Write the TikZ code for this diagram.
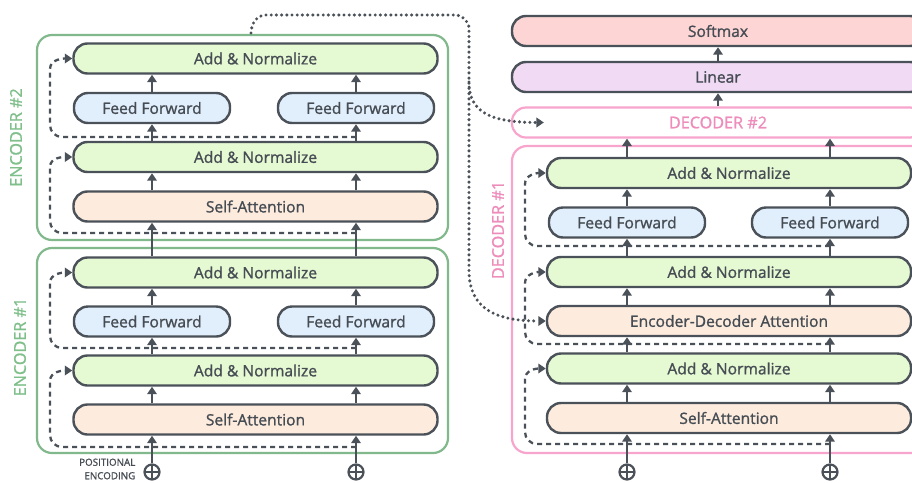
\documentclass[tikz,border=0pt]{standalone}
\usepackage{fontspec}
\setmainfont{Open Sans}
\newfontfamily\blkfont{Open Sans}[FakeBold=1.2]
\usetikzlibrary{arrows.meta,calc}

\definecolor{edge}{HTML}{4B5159}
\definecolor{txt}{HTML}{464C53}
\definecolor{addfill}{HTML}{E5F9D3}
\definecolor{fffill}{HTML}{E1EEFC}
\definecolor{attfill}{HTML}{FDECDE}
\definecolor{smfill}{HTML}{FCD5D4}
\definecolor{linfill}{HTML}{F0DAF4}
\definecolor{encgreen}{HTML}{82B98C}
\definecolor{enclabel}{HTML}{7FBF8A}
\definecolor{decpink}{HTML}{F8A5CD}
\definecolor{declabel}{HTML}{EE8DBB}

\tikzset{
  blk/.style={draw=edge, line width=2.4pt, rounded corners=14pt,
    minimum height=30pt, inner sep=0pt, text=txt,
    font=\blkfont\fontsize{15.6}{17}\selectfont},
  addbox/.style={blk, fill=addfill, minimum width=364pt},
  ffbox/.style={blk, fill=fffill, minimum width=156pt},
  attbox/.style={blk, fill=attfill, minimum width=364pt},
  wideblk/.style={blk, minimum width=412pt},
  encframe/.style={draw=encgreen, line width=2.2pt, rounded corners=15pt},
  decframe/.style={draw=decpink, line width=2.2pt, rounded corners=15pt},
  labfont/.style={font=\blkfont\fontsize{16.2}{17}\selectfont},
  sidelabel/.style={rotate=90, labfont},
  arr/.style={draw=edge, line width=2.4pt, -{Triangle[width=9.5pt,length=7.5pt]}},
  res/.style={draw=edge, line width=2.3pt, dash pattern=on 5pt off 4pt,
    -{Triangle[width=9.5pt,length=7.5pt]}},
  dotline/.style={draw=edge, line width=3.4pt, line cap=round,
    dash pattern=on 0pt off 5.2pt, -{Triangle[width=9.5pt,length=7.5pt]}},
  plus/.style={circle, draw=edge, line width=2.2pt, minimum size=15pt, inner sep=0pt,
    path picture={\draw[edge, line width=2.2pt]
      (path picture bounding box.north) -- (path picture bounding box.south)
      (path picture bounding box.west) -- (path picture bounding box.east);}},
}

\begin{document}
\begin{tikzpicture}[x=1pt, y=1pt]
\useasboundingbox (0,0) rectangle (912,-482);
\clip (0,0) rectangle (912,-482);
\fill[white] (0,0) rectangle (912,-482);

% ---------------- encoder frames and labels ----------------
\draw[encframe] (37,-35) rectangle (448,-240);
\draw[encframe] (37,-248) rectangle (448,-453);
\node[sidelabel, text=enclabel] (lab-e2) at (16,-137.5) {ENCODER \#2};
\node[sidelabel, text=enclabel] (lab-e1) at (20,-347) {ENCODER \#1};

% ---------------- decoder frames and labels ----------------
\draw[decframe] (512,-146) rectangle (940,-453);
\node[sidelabel, text=declabel] (lab-d1) at (498,-230) {DECODER \#1};

% ---------------- encoder #2 ----------------
\node[addbox] (e2an2) at (255.5,-58.5) {Add \& Normalize};
\node[ffbox]  (e2ffL) at (152,-108) {Feed Forward};
\node[ffbox]  (e2ffR) at (356,-108) {Feed Forward};
\node[addbox] (e2an1) at (255.5,-157) {Add \& Normalize};
\node[attbox] (e2sa)  at (255.5,-206.5) {Self-Attention};

% ---------------- encoder #1 ----------------
\node[addbox] (e1an2) at (255.5,-272.5) {Add \& Normalize};
\node[ffbox]  (e1ffL) at (152,-321.5) {Feed Forward};
\node[ffbox]  (e1ffR) at (356,-321.5) {Feed Forward};
\node[addbox] (e1an1) at (255.5,-370.5) {Add \& Normalize};
\node[attbox] (e1sa)  at (255.5,-419.5) {Self-Attention};

% ---------------- decoder stack ----------------
\node[wideblk, fill=smfill]  (softmax) at (718,-31) {Softmax};
\node[wideblk, fill=linfill] (linear)  at (718,-77) {Linear};
\node[wideblk, draw=decpink, line width=2.2pt, text=declabel, labfont]
  (dec2) at (718,-122.5) {DECODER \#2};

\node[addbox] (dan3) at (729,-173) {Add \& Normalize};
\node[ffbox]  (dffL) at (627,-222.5) {Feed Forward};
\node[ffbox]  (dffR) at (830,-222.5) {Feed Forward};
\node[addbox] (dan2) at (729,-272) {Add \& Normalize};
\node[attbox] (deda) at (729,-321) {Encoder-Decoder Attention};
\node[addbox] (dan1) at (729,-368.5) {Add \& Normalize};
\node[attbox] (dsa)  at (729,-418) {Self-Attention};

% ---------------- positional encoding inputs ----------------
\node[plus] (peA) at (152,-472) {};
\node[plus] (peB) at (356,-472) {};
\node[plus] (peC) at (627,-472) {};
\node[plus] (peD) at (830,-472) {};
\node[align=right, anchor=east, text=txt, inner sep=0pt,
      font=\blkfont\fontsize{9.8}{13.5}\selectfont]
  (pelabel) at (135.5,-469) {POSITIONAL\\ENCODING};

% ---------------- residual (skip) connections ----------------
\coordinate (e2r1) at (356,-233);
\coordinate (e2r2) at (356,-137);
\coordinate (e1r1) at (356,-447);
\coordinate (e1r2) at (356,-348);
\draw[res] (e2r1) -- (62,-233) to[out=180,in=-90] (50,-221) -- (50,-167) to[out=90,in=180] (e2an1.west);
\draw[res] (e2r2) -- (62,-137) to[out=180,in=-90] (50,-125) -- (50,-69) to[out=90,in=180] (e2an2.west);
\draw[res] (e1r1) -- (62,-447) to[out=180,in=-90] (50,-435) -- (50,-381) to[out=90,in=180] (e1an1.west);
\draw[res] (e1r2) -- (62,-348) to[out=180,in=-90] (50,-336) -- (50,-283) to[out=90,in=180] (e1an2.west);

\coordinate (dr1) at (830,-444);
\coordinate (dr2) at (830,-344);
\coordinate (dr3) at (830,-246);
\draw[res] (dr1) -- (537,-444) to[out=180,in=-90] (525,-432) -- (525,-379) to[out=90,in=180] (dan1.west);
\draw[res] (dr2) -- (537,-344) to[out=180,in=-90] (525,-332) -- (525,-283) to[out=90,in=180] (dan2.west);
\draw[res] (dr3) -- (537,-246) to[out=180,in=-90] (525,-234) -- (525,-184) to[out=90,in=180] (dan3.west);

% ---------------- encoder output to the decoders ----------------
\coordinate (encout) at (251,-33);
\coordinate (d2in) at ($(dec2.west)+(33,0)$);
\draw[dotline] (encout) to[out=90,in=180] (266,-15) -- (455,-15)
  to[out=0,in=90] (469,-29) -- (469,-270)
  .. controls (469,-305) and (490,-321) .. (deda.west);
\draw[dotline] (469,-82) .. controls (469,-112) and (490,-122.5) .. (d2in);

% ---------------- forward flow, encoder ----------------
\foreach \x in {peA, peB} {
  \draw[arr] (\x.north) -- (\x |- e1sa.south);
  \draw[arr] (\x |- e1sa.north) -- (\x |- e1an1.south);
  \draw[arr] (\x |- e1an1.north) -- (\x |- e1ffL.south);
  \draw[arr] (\x |- e1ffL.north) -- (\x |- e1an2.south);
  \draw[arr] (\x |- e1an2.north) -- (\x |- e2sa.south);
  \draw[arr] (\x |- e2sa.north) -- (\x |- e2an1.south);
  \draw[arr] (\x |- e2an1.north) -- (\x |- e2ffL.south);
  \draw[arr] (\x |- e2ffL.north) -- (\x |- e2an2.south);
}

% ---------------- forward flow, decoder ----------------
\foreach \x in {peC, peD} {
  \draw[arr] (\x.north) -- (\x |- dsa.south);
  \draw[arr] (\x |- dsa.north) -- (\x |- dan1.south);
  \draw[arr] (\x |- dan1.north) -- (\x |- deda.south);
  \draw[arr] (\x |- deda.north) -- (\x |- dan2.south);
  \draw[arr] (\x |- dan2.north) -- (\x |- dffL.south);
  \draw[arr] (\x |- dffL.north) -- (\x |- dan3.south);
  \draw[arr] (\x |- dan3.north) -- (\x |- dec2.south);
}
\draw[arr] (dec2.north) -- (linear.south);
\draw[arr] (linear.north) -- (softmax.south);
\end{tikzpicture}
\end{document}
